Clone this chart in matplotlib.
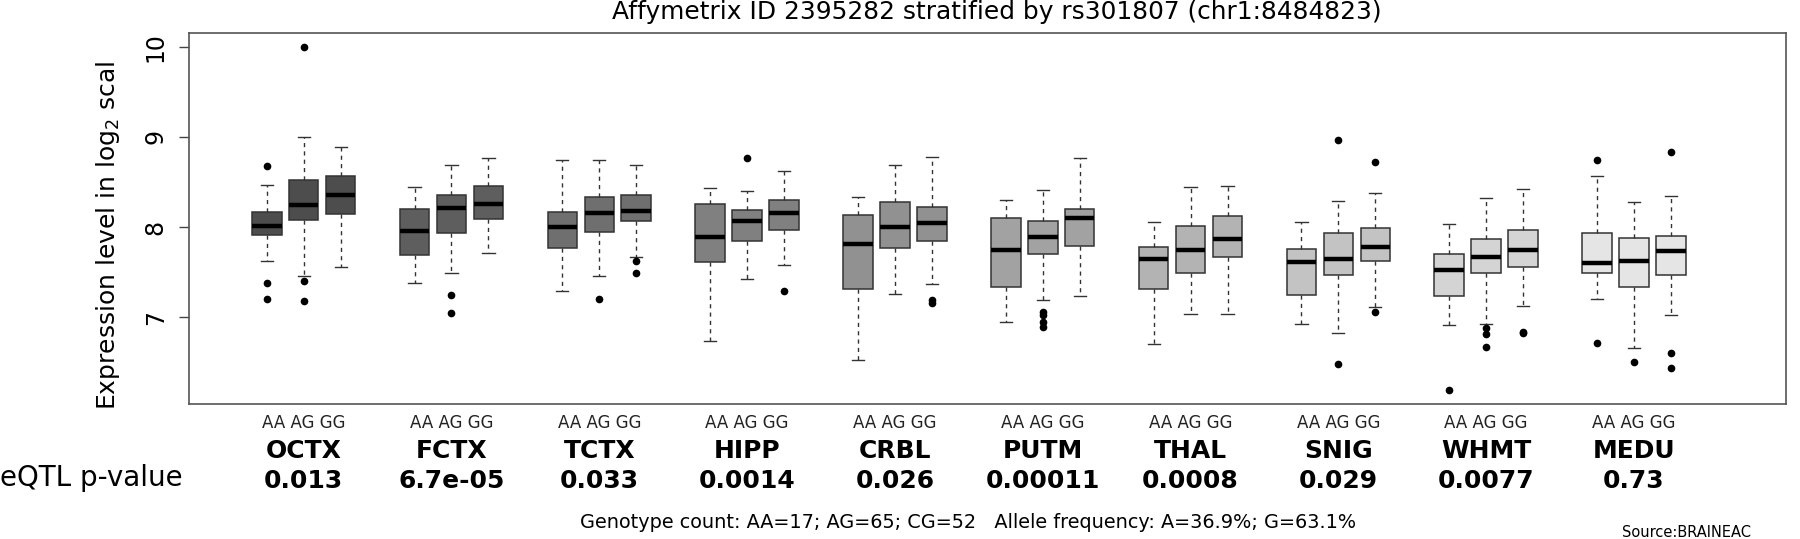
import matplotlib
matplotlib.use("Agg")
import matplotlib.pyplot as plt
from matplotlib.transforms import blended_transform_factory

# ----------------------------------------------------------------------------
# Data
# ----------------------------------------------------------------------------
regions = ["OCTX", "FCTX", "TCTX", "HIPP", "CRBL", "PUTM", "THAL", "SNIG", "WHMT", "MEDU"]
genotypes = ["AA", "AG", "GG"]
pvalues = ["0.013", "6.7e-05", "0.033", "0.0014", "0.026", "0.00011", "0.0008", "0.029", "0.0077", "0.73"]

medians = [[8.015, 8.24, 8.36], [7.96, 8.21, 8.255], [8.00, 8.15, 8.18], [7.885, 8.07, 8.16],
           [7.81, 8.00, 8.04], [7.74, 7.89, 8.10], [7.65, 7.75, 7.87], [7.61, 7.65, 7.78],
           [7.52, 7.67, 7.75], [7.60, 7.62, 7.73]]
q1 = [[7.91, 8.08, 8.14], [7.69, 7.93, 8.09], [7.77, 7.94, 8.07], [7.61, 7.85, 7.97],
      [7.31, 7.77, 7.845], [7.34, 7.70, 7.79], [7.31, 7.49, 7.67], [7.25, 7.47, 7.62],
      [7.24, 7.49, 7.56], [7.49, 7.33, 7.47]]
q3 = [[8.17, 8.525, 8.56], [8.20, 8.35, 8.45], [8.17, 8.33, 8.35], [8.25, 8.19, 8.30],
      [8.13, 8.28, 8.225], [8.10, 8.07, 8.20], [7.78, 8.015, 8.12], [7.76, 7.93, 7.985],
      [7.70, 7.87, 7.97], [7.93, 7.88, 7.90]]
whisk_lo = [[7.62, 7.46, 7.56], [7.38, 7.49, 7.71], [7.29, 7.46, 7.67], [6.74, 7.42, 7.58],
            [6.525, 7.26, 7.37], [6.95, 7.19, 7.23], [6.70, 7.035, 7.035], [6.92, 6.83, 7.11],
            [6.91, 6.92, 7.12], [7.20, 6.66, 7.02]]
whisk_hi = [[8.47, 9.00, 8.89], [8.44, 8.69, 8.765], [8.74, 8.74, 8.69], [8.43, 8.40, 8.62],
            [8.33, 8.69, 8.78], [8.30, 8.41, 8.76], [8.06, 8.44, 8.46], [8.06, 8.29, 8.38],
            [8.03, 8.325, 8.42], [8.57, 8.28, 8.34]]
outliers = [
    [[8.68, 7.38, 7.205], [10.0, 7.405, 7.18], []],
    [[], [7.25, 7.05], []],
    [[], [7.205], [7.62, 7.49]],
    [[], [8.77], [7.29]],
    [[], [], [7.19, 7.155]],
    [[], [7.06, 7.025, 6.95, 6.89], []],
    [[], [], []],
    [[], [8.97, 6.48], [8.72, 7.06]],
    [[6.19], [6.88, 6.81, 6.67], [6.84, 6.82]],
    [[8.74, 6.71], [6.50], [8.83, 6.60, 6.44]],
]

title = "Affymetrix ID 2395282 stratified by rs301807 (chr1:8484823)"
footer = "Genotype count: AA=17; AG=65; CG=52   Allele frequency: A=36.9%; G=63.1%"

# grey(seq(0.3, 0.9, length = 10)) style fills
grey_levels = [0.3 + 0.6 * i / 9 for i in range(10)]

# ----------------------------------------------------------------------------
# Plot
# ----------------------------------------------------------------------------
W, H = 1800, 539
fig = plt.figure(figsize=(W / 100, H / 100), dpi=100)
ax = fig.add_axes([188.6 / W, 1 - 404 / H, (1785.5 - 188.6) / W, (404 - 32.7) / H])

for g, region in enumerate(regions):
    pos = [g * 4 + 1 + k for k in range(3)]
    stats = []
    for k in range(3):
        stats.append({
            "med": medians[g][k], "q1": q1[g][k], "q3": q3[g][k],
            "whislo": whisk_lo[g][k], "whishi": whisk_hi[g][k],
            "fliers": outliers[g][k],
        })
    c = str(grey_levels[g])
    ax.bxp(stats, positions=pos, widths=0.8, patch_artist=True, capwidths=0.33,
           boxprops=dict(facecolor=c, edgecolor="#333333", linewidth=1.1),
           medianprops=dict(color="black", linewidth=3.2, solid_capstyle="butt"),
           whiskerprops=dict(color="#333333", linewidth=1.0, linestyle=(0, (3, 3))),
           capprops=dict(color="#333333", linewidth=1.0),
           flierprops=dict(marker="o", markerfacecolor="black", markeredgecolor="black",
                           markersize=4.5))

ax.set_xlim(-1.114, 42.1)
ax.set_ylim(6.038, 10.154)
ax.set_xticks([])
ax.set_yticks([7, 8, 9, 10])
ax.set_yticklabels(["7", "8", "9", "10"], rotation=90, va="center", fontsize=17)
ax.tick_params(axis="y", length=7, width=1.0, pad=8, color="#444444")
for s in ax.spines.values():
    s.set_color("#555555")
    s.set_linewidth(1.2)

# y label (truncated as in original)
fig.text(115 / W, 1 - 235.5 / H, "Expression level in log$_2$ scal", rotation=90,
         rotation_mode="anchor", ha="center", va="baseline", fontsize=18)

fig.text(996.7 / W, 1 - 19 / H, title, ha="center", va="baseline", fontsize=17.9)

# per-region labels under the boxes
tr = blended_transform_factory(ax.transData, fig.transFigure)
for g, region in enumerate(regions):
    xc = g * 4 + 2
    ax.text(xc, 1 - 422.5 / H, " ".join(genotypes), transform=tr, ha="center", va="center",
            fontsize=12, color="#222222", clip_on=False)
    ax.text(xc, 1 - 451.5 / H, region, transform=tr, ha="center", va="center",
            fontsize=18, fontweight="bold", clip_on=False)
    ax.text(xc, 1 - 481 / H, pvalues[g], transform=tr, ha="center", va="center",
            fontsize=18, fontweight="bold", clip_on=False)

fig.text(0 / W, 1 - 478 / H, "eQTL p-value", ha="left", va="center", fontsize=20)
fig.text(968 / W, 1 - 522.5 / H, footer, ha="center", va="center", fontsize=13.9)
fig.text(1622 / W, 1 - 537 / H, "Source:BRAINEAC", ha="left", va="baseline", fontsize=10.5)

fig.savefig("out.png", dpi=100)
